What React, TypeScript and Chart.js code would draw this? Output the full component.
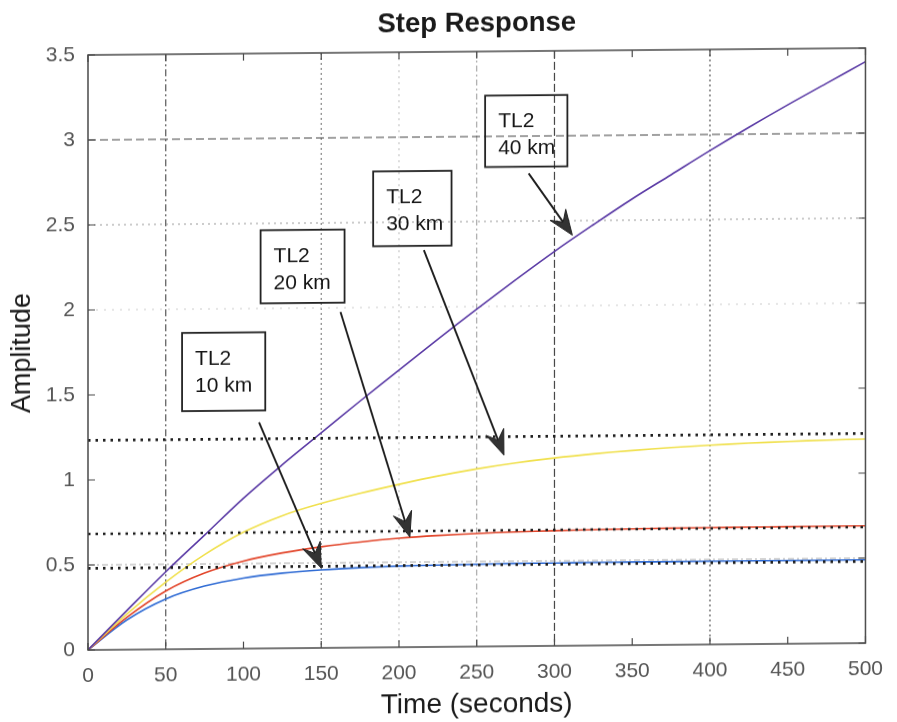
import React, { useEffect, useRef } from "react";
import { Chart, registerables } from "chart.js";

Chart.register(...registerables);

// ---- data ----
const timeSeconds = [0, 25, 50, 75, 100, 125, 150, 175, 200, 225, 250, 275, 300, 325, 350, 375, 400, 425, 450, 475, 500];
const tl2_10km = [0, 0.175, 0.296, 0.37, 0.415, 0.442, 0.459, 0.47, 0.477, 0.481, 0.484, 0.486, 0.487, 0.488, 0.489, 0.489, 0.49, 0.49, 0.49, 0.49, 0.49];
const tl2_20km = [0, 0.19, 0.343, 0.447, 0.515, 0.561, 0.595, 0.621, 0.641, 0.655, 0.665, 0.672, 0.677, 0.681, 0.684, 0.686, 0.687, 0.688, 0.689, 0.69, 0.69];
const tl2_30km = [0, 0.21, 0.395, 0.555, 0.685, 0.78, 0.85, 0.907, 0.958, 1.005, 1.045, 1.078, 1.105, 1.127, 1.145, 1.16, 1.172, 1.182, 1.19, 1.196, 1.2];
const tl2_40km = [0, 0.23, 0.456, 0.67, 0.885, 1.08, 1.265, 1.45, 1.63, 1.81, 1.985, 2.155, 2.32, 2.475, 2.625, 2.765, 2.905, 3.04, 3.17, 3.295, 3.42];
const seriesNames = ["TL2 10 km", "TL2 20 km", "TL2 30 km", "TL2 40 km"];
const steadyStateLevels = [0.48, 0.682, 1.233];

const xMin = 0, xMax = 500, xStep = 50;
const yMin = 0, yMax = 3.5, yStep = 0.5;

const chartTitle = "Step Response";
const xTitle = "Time (seconds)";
const yTitle = "Amplitude";

// grid lines present in the reference (values)
const vGridValues = [50, 150, 200, 250, 300, 400];
const hGridValues = [0.5, 2, 2.5, 3];

// annotation text + anchor points in data units
const annotationLabels = [["TL2", "10 km"], ["TL2", "20 km"], ["TL2", "30 km"], ["TL2", "40 km"]];
const annotationBoxes = [
  [60.5, 114, 1.86, 1.4],
  [111, 165, 2.46, 2.03],
  [183.4, 233.8, 2.8, 2.36],
  [255.4, 308.3, 3.24, 2.82],
];
const annotationArrows = [
  [110, 1.33, 150, 0.47],
  [162.4, 1.975, 207, 0.648],
  [216, 2.335, 267.5, 1.125],
  [283.4, 2.78, 311.5, 2.415],
];

// ---- styles ----
const FONT = "'Liberation Sans', Arial, Helvetica, sans-serif";
const seriesColors = ["#2f6bd4", "#e2452a", "#f0e04c", "#5a3aa5"];
const vGridStyles = [
  { color: "#555", dash: [7, 3, 2, 3], width: 1.2 },
  { color: "#777", dash: [2, 3], width: 1.1 },
  { color: "#bbb", dash: [2, 4], width: 1 },
  { color: "#999", dash: [6, 3, 2, 3], width: 1 },
  { color: "#444", dash: [8, 3], width: 1.2 },
  { color: "#555", dash: [2, 3], width: 1.2 },
];
const hGridStyles = [
  { color: "#aaa", dash: [6, 3, 2, 3], width: 1 },
  { color: "#ccc", dash: [2, 6], width: 1 },
  { color: "#999", dash: [2, 4], width: 1 },
  { color: "#444", dash: [8, 4], width: 1.2 },
];

const decorPlugin = {
  id: "matlabDecor",
  beforeDatasetsDraw(chart: any) {
    const { ctx, chartArea: a, scales } = chart;
    const x = scales.x, y = scales.y;
    ctx.save();
    ctx.beginPath();
    ctx.rect(a.left, a.top, a.right - a.left, a.bottom - a.top);
    ctx.clip();
    vGridValues.forEach((v, i) => {
      const s = vGridStyles[i];
      const px = x.getPixelForValue(v);
      ctx.strokeStyle = s.color;
      ctx.lineWidth = s.width;
      ctx.setLineDash(s.dash);
      ctx.beginPath();
      ctx.moveTo(px, a.top);
      ctx.lineTo(px, a.bottom);
      ctx.stroke();
    });
    hGridValues.forEach((v, i) => {
      const s = hGridStyles[i];
      const py = y.getPixelForValue(v);
      ctx.strokeStyle = s.color;
      ctx.lineWidth = s.width;
      ctx.setLineDash(s.dash);
      ctx.beginPath();
      ctx.moveTo(a.left, py);
      ctx.lineTo(a.right, py);
      ctx.stroke();
    });
    ctx.restore();
  },
  afterDatasetsDraw(chart: any) {
    const { ctx, chartArea: a, scales } = chart;
    const x = scales.x, y = scales.y;
    ctx.save();
    // frame
    ctx.setLineDash([]);
    ctx.strokeStyle = "#4a4a4a";
    ctx.lineWidth = 1.5;
    ctx.strokeRect(a.left, a.top, a.right - a.left, a.bottom - a.top);
    // inner tick marks
    ctx.lineWidth = 1.2;
    const tl = 7;
    x.ticks.forEach((t: any) => {
      const px = x.getPixelForValue(t.value);
      ctx.beginPath();
      ctx.moveTo(px, a.bottom);
      ctx.lineTo(px, a.bottom - tl);
      ctx.moveTo(px, a.top);
      ctx.lineTo(px, a.top + tl);
      ctx.stroke();
    });
    y.ticks.forEach((t: any) => {
      const py = y.getPixelForValue(t.value);
      ctx.beginPath();
      ctx.moveTo(a.left, py);
      ctx.lineTo(a.left + tl, py);
      ctx.moveTo(a.right, py);
      ctx.lineTo(a.right - tl, py);
      ctx.stroke();
    });
    // annotation boxes
    annotationBoxes.forEach((b, i) => {
      const x0 = x.getPixelForValue(b[0]);
      const x1 = x.getPixelForValue(b[1]);
      const y0 = y.getPixelForValue(b[2]);
      const y1 = y.getPixelForValue(b[3]);
      ctx.strokeStyle = "#222";
      ctx.lineWidth = 1.8;
      ctx.strokeRect(x0, y0, x1 - x0, y1 - y0);
      ctx.fillStyle = "#151515";
      ctx.font = `21px ${FONT}`;
      ctx.textAlign = "left";
      ctx.textBaseline = "alphabetic";
      ctx.fillText(annotationLabels[i][0], x0 + 13, y0 + 32);
      ctx.fillText(annotationLabels[i][1], x0 + 13, y0 + 59);
    });
    // arrows
    annotationArrows.forEach((r) => {
      const sx = x.getPixelForValue(r[0]);
      const sy = y.getPixelForValue(r[1]);
      const ex = x.getPixelForValue(r[2]);
      const ey = y.getPixelForValue(r[3]);
      const ang = Math.atan2(ey - sy, ex - sx);
      const L = 25, W = 9.5, notch = 16;
      const ux = Math.cos(ang), uy = Math.sin(ang);
      const nx = -uy, ny = ux;
      ctx.strokeStyle = "#1e1e1e";
      ctx.lineWidth = 1.9;
      ctx.beginPath();
      ctx.moveTo(sx, sy);
      ctx.lineTo(ex - ux * notch, ey - uy * notch);
      ctx.stroke();
      ctx.fillStyle = "#333";
      ctx.strokeStyle = "#222";
      ctx.lineWidth = 1;
      ctx.beginPath();
      ctx.moveTo(ex, ey);
      ctx.lineTo(ex - ux * L + nx * W, ey - uy * L + ny * W);
      ctx.lineTo(ex - ux * notch, ey - uy * notch);
      ctx.lineTo(ex - ux * L - nx * W, ey - uy * L - ny * W);
      ctx.closePath();
      ctx.fill();
      ctx.stroke();
    });
    ctx.restore();
  },
};

const seriesValues = [tl2_10km, tl2_20km, tl2_30km, tl2_40km];

export default function App() {
  const canvasRef = useRef<HTMLCanvasElement | null>(null);

  useEffect(() => {
    const canvas = canvasRef.current;
    if (!canvas) return;

    const refDatasets = steadyStateLevels.map((lvl) => ({
      label: `level ${lvl}`,
      data: [
        { x: xMin, y: lvl },
        { x: xMax, y: lvl },
      ],
      borderColor: "#1e1e1e",
      borderWidth: 2.6,
      borderDash: [2.5, 5],
      pointRadius: 0,
      fill: false,
      tension: 0,
    }));

    const curveDatasets = seriesValues
      .map((vals, i) => ({
        label: seriesNames[i],
        data: timeSeconds.map((t, k) => ({ x: t, y: vals[k] })),
        borderColor: seriesColors[i],
        borderWidth: 1.6,
        pointRadius: 0,
        fill: false,
        tension: 0.35,
      }))
      .reverse();

    const chart = new Chart(canvas, {
      type: "line",
      data: { datasets: [...refDatasets, ...curveDatasets] as any },
      options: {
        responsive: false,
        animation: false,
        layout: { padding: { left: 0, right: 25, top: 0, bottom: 0 } },
        plugins: {
          legend: { display: false },
          tooltip: { enabled: false },
          title: {
            display: true,
            text: chartTitle,
            fullSize: false,
            color: "#1a1a1a",
            font: { family: FONT, size: 27.5, weight: "bold", lineHeight: 1.2 },
            padding: { top: 11, bottom: 11 },
          } as any,
        },
        scales: {
          x: {
            type: "linear",
            min: xMin,
            max: xMax,
            grid: { display: false, drawTicks: false },
            border: { display: false },
            ticks: {
              stepSize: xStep,
              padding: 14,
              color: "#555",
              font: { family: FONT, size: 21 },
              maxRotation: 0,
              callback: (v: any) => String(Number(v)),
            },
            title: {
              display: true,
              text: xTitle,
              color: "#1a1a1a",
              font: { family: FONT, size: 28, lineHeight: 1 },
              padding: { top: 0, bottom: 0 },
            },
            afterFit: (s: any) => {
              s.height = 72;
            },
          },
          y: {
            type: "linear",
            min: yMin,
            max: yMax,
            grid: { display: false, drawTicks: false },
            border: { display: false },
            ticks: {
              stepSize: yStep,
              padding: 13,
              color: "#555",
              font: { family: FONT, size: 21 },
              callback: (v: any) => String(Number(v)),
            },
            title: {
              display: true,
              text: yTitle,
              color: "#1a1a1a",
              font: { family: FONT, size: 27, lineHeight: 1.2 },
              padding: { top: 6, bottom: 0 },
            },
            afterFit: (s: any) => {
              s.width = 88;
            },
          },
        },
      } as any,
      plugins: [decorPlugin],
    });

    return () => chart.destroy();
  }, []);

  return (
    <div style={{ position: "fixed", left: 0, top: 0, width: 897, height: 722, background: "#fff" }}>
      <canvas
        ref={canvasRef}
        width={897}
        height={722}
        style={{
          width: 897,
          height: 722,
          display: "block",
          transform: "skewY(-0.51deg)",
          transformOrigin: "88px 650px",
        }}
      />
    </div>
  );
}
